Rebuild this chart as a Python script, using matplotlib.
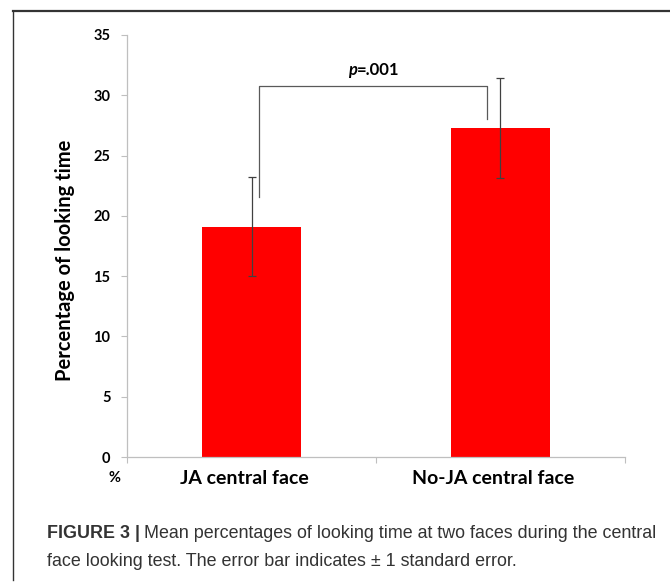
import matplotlib.pyplot as plt
from matplotlib.lines import Line2D

# data
categories = ["JA central face", "No-JA central face"]
means = [19.1, 27.3]
std_err = [4.1, 4.15]
y_ticks = [0, 5, 10, 15, 20, 25, 30, 35]
p_label = ".001"

fig = plt.figure(figsize=(6.7, 5.83), dpi=100)
ax = fig.add_axes([0.1896, 0.2161, 0.9328 - 0.1896, 0.94 - 0.2161])

x = list(range(len(categories)))
ax.bar(x, means, width=0.4, color="#ff0000", zorder=2)
ax.errorbar(x, means, yerr=std_err, fmt="none", ecolor="#404040",
            elinewidth=0.9, capsize=3, capthick=0.9, zorder=3)

ax.set_xlim(-0.5, 1.5)
ax.set_ylim(0, 35)
ax.set_yticks(y_ticks)
ax.set_yticklabels([str(v) for v in y_ticks], fontsize=10.5,
                   fontweight="bold", family="Lato")
ax.set_xticks([-0.5, 0.5, 1.5])
ax.set_xticklabels([])
ax.tick_params(axis="both", colors="#bfbfbf", length=4, width=0.8,
               labelcolor="black")
ax.tick_params(axis="y", pad=8)
for side in ["top", "right"]:
    ax.spines[side].set_visible(False)
for side in ["left", "bottom"]:
    ax.spines[side].set_color("#bfbfbf")
    ax.spines[side].set_linewidth(0.9)

for xi, name in zip(x, categories):
    ax.text(xi - 0.03, -1.75, name, ha="center", va="center", fontsize=14,
            fontweight="bold", family="Lato")
ax.text(-0.55, -1.75, "%", ha="center", va="center", fontsize=10.5,
        fontweight="bold", family="Lato")

fig.text(65 / 670, 1 - 260 / 583, "Percentage of looking time", rotation=90,
         ha="center", va="center", fontsize=14.5, fontweight="bold",
         family="Lato")

# significance bracket
bx0, bx1 = 0.03, 0.946
ax.plot([bx0, bx0, bx1, bx1], [21.6, 30.8, 30.8, 28.0], color="#595959",
        lw=0.9, zorder=4)
ax.text(0.424, 32.1, "p", ha="right", va="center", fontsize=12,
        fontweight="bold", style="italic", family="Lato")
ax.text(0.424, 32.1, "=" + p_label, ha="left", va="center", fontsize=12,
        fontweight="bold", family="Lato")

# frame lines (left and top)
fig.add_artist(Line2D([13 / 670, 13 / 670], [1 - 11 / 583, 1 - 580 / 583],
                      color="#333333", lw=1.0))
fig.add_artist(Line2D([13 / 670, 1.0], [1 - 11 / 583, 1 - 11 / 583],
                      color="#333333", lw=1.6))

# caption
cap_y1 = 1 - 534 / 583
cap_y2 = 1 - 561 / 583
fs = 12.85
t = fig.text(47 / 670, cap_y1, "FIGURE 3 |", fontsize=fs, fontweight="bold",
             family="Liberation Sans", color="#333333", va="center")
fig.canvas.draw()
bb = t.get_window_extent()
fig.text(bb.x1 / 670 + 4 / 670, cap_y1,
         "Mean percentages of looking time at two faces during the central",
         fontsize=fs, family="Liberation Sans", color="#333333", va="center")
fig.text(47 / 670, cap_y2,
         "face looking test. The error bar indicates \u00b1 1 standard error.",
         fontsize=fs, family="Liberation Sans", color="#333333", va="center")

fig.savefig("out.png", dpi=100)
